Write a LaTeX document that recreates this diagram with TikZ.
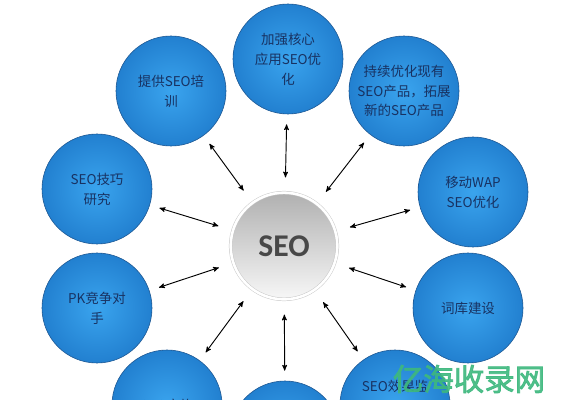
\documentclass[tikz,border=0pt]{standalone}
\usepackage{fontspec}
\setmainfont{Noto Sans CJK SC}[AutoFakeBold=2.5]
\newfontfamily\seofont{Carlito}
\usepackage{tikz}
\usetikzlibrary{arrows,positioning}
\definecolor{colortopicin}{RGB}{58,164,238}
\definecolor{colortopicout}{RGB}{34,128,208}
\definecolor{colorborder}{RGB}{28,86,146}
\definecolor{colortext}{RGB}{24,50,98}
\definecolor{colorhub}{RGB}{72,72,72}
\definecolor{colormark}{RGB}{62,184,126}
\tikzstyle{topic}=[circle, minimum size=3.3cm, inner sep=0pt, draw=colorborder, line width=0.5pt, inner color=colortopicin, outer color=colortopicout, text=colortext, align=center, font=\fontsize{11.5pt}{17pt}\selectfont]
\tikzstyle{topictext}=[inner sep=0pt, text=colortext, align=center, font=\fontsize{11.5pt}{17pt}\selectfont]
\tikzstyle{hub}=[circle, minimum size=3.2cm, inner sep=0pt, draw=gray!45, double=white, double distance=2.2pt, top color=gray!62, bottom color=gray!6, text=colorhub, font=\seofont\bfseries\fontsize{27pt}{28pt}\selectfont]
\tikzstyle{link}=[<->, >=stealth', line width=0.8pt, shorten <=0.45cm, shorten >=0.3cm]
\tikzstyle{watermark}=[inner sep=0pt, text=colormark, text opacity=0.9, font=\bfseries\fontsize{26pt}{26pt}\selectfont]

\begin{document}
\begin{tikzpicture}[x=0.03cm, y=-0.03cm]
		\useasboundingbox (0, 0) rectangle (570, 400);
		\clip (0, 0) rectangle (570, 400);
		
		\node[hub] at (284, 246) (seo) {SEO};
		
		\node[topic] at (288, 59) (t1) {加强核心\\应用SEO优\\化};
		
		\node[topic] at (404, 91) (t2) {持续优化现有\\SEO产品，拓展\\新的SEO产品};
		
		\node[topic] at (473, 192) (t3) {移动WAP\\SEO优化};
		
		\node[topic] at (468, 308) (t4) {词库建设};
		
		\node[topic] at (395, 405) (t5) {};
		\node[topictext] at (395, 386) (t5text) {SEO效果监};
		
		\node[topic] at (285, 436) (t6) {};
		
		\node[topic] at (167, 405) (t7) {};
		\node[topictext] at (167, 405) (t7text) {SEO实施};
		
		\node[topic] at (97, 308) (t8) {PK竞争对\\手};
		
		\node[topic] at (97, 189) (t9) {SEO技巧\\研究};
		
		\node[topic] at (171, 91) (t10) {提供SEO培\\训};
		
		\foreach \t in {t1, t2, t3, t4, t5, t6, t7, t8, t9, t10}
			\draw[link] (seo) -- (\t);
		
		\node[watermark] at (469, 379) (mark) {亿海收录网};
		
		\end{tikzpicture}
\end{document}
